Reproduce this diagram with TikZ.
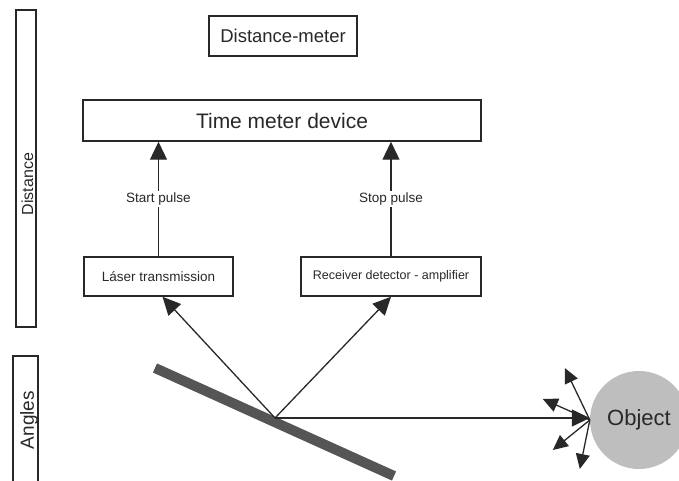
\documentclass[tikz,border=0pt]{standalone}
\usepackage{fontspec}
\setmainfont{Liberation Sans}
\usetikzlibrary{arrows.meta,positioning,calc}
\definecolor{inkgray}{RGB}{40,40,40}
\definecolor{mirrorgray}{RGB}{85,85,85}
\definecolor{objgray}{RGB}{190,190,190}
\newcommand{\fsz}[1]{\fontsize{#1}{#1}\selectfont}

\begin{document}
\begin{tikzpicture}[x=1pt,y=-1pt,inkgray,
  box/.style={draw=inkgray,line width=1.5pt,text=inkgray,inner sep=0pt},
  arr/.style={-{Triangle[length=18pt,width=17pt]},line width=1.3pt},
  sarr/.style={-{Triangle[length=15pt,width=14pt]},line width=1.3pt}]
\useasboundingbox (0,0) rectangle (679,481);
% side bars
\node[box,rotate=90,minimum width=317pt,minimum height=20pt] (distbox) at (26,168.5) {};
\node[rotate=90,font=\fsz{16}] (distlbl) at (27.5,184) {Distance};
\draw[line width=1.5pt] (13,490) |- (38,356) -- (38,490);
\node[rotate=90,font=\fsz{19}] (anglbl) at (29,420) {Angles};
% boxes
\node[box,minimum width=148pt,minimum height=40pt,font=\fsz{18.5}] (meter) at (283,36) {Distance-meter};
\node[box,minimum width=398pt,minimum height=41pt,font=\fsz{21}] (timer) at (282,120.5) {Time meter device};
\node[box,minimum width=149pt,minimum height=39pt,font=\fsz{13.5}] (laser) at (158.5,276.5) {Láser transmission};
\node[box,minimum width=180pt,minimum height=39pt,font=\fsz{12.5}] (recv) at (391,276.5) {Receiver detector - amplifier};
\node[circle,fill=objgray,minimum size=98pt,inner sep=0pt,font=\fsz{22}] (obj) at (639,420) {Object};
% mirror
\draw[mirrorgray,line width=10pt] (155,368) -- (394,476);
\coordinate (hit) at (275,418);
% pulses
\draw[arr] (laser.north) -- (timer.south -| laser.north) node[midway,fill=white,font=\fsz{13.5},inner sep=2pt] {Start pulse};
\draw[arr] (recv.north) -- (timer.south -| recv.north) node[midway,fill=white,font=\fsz{13.5},inner sep=2pt] {Stop pulse};
% beams
\draw[arr] (hit) -- ($(laser.south)+(4,0)$);
\draw[arr] (hit) -- (recv.south);
\draw[arr] (hit) -- (hit -| obj.west);
\foreach \dx/\dy in {-25/-52,-47/-21,-37/30,-10/49}{\draw[sarr] (obj.west) -- +(\dx,\dy);}
\end{tikzpicture}
\end{document}
